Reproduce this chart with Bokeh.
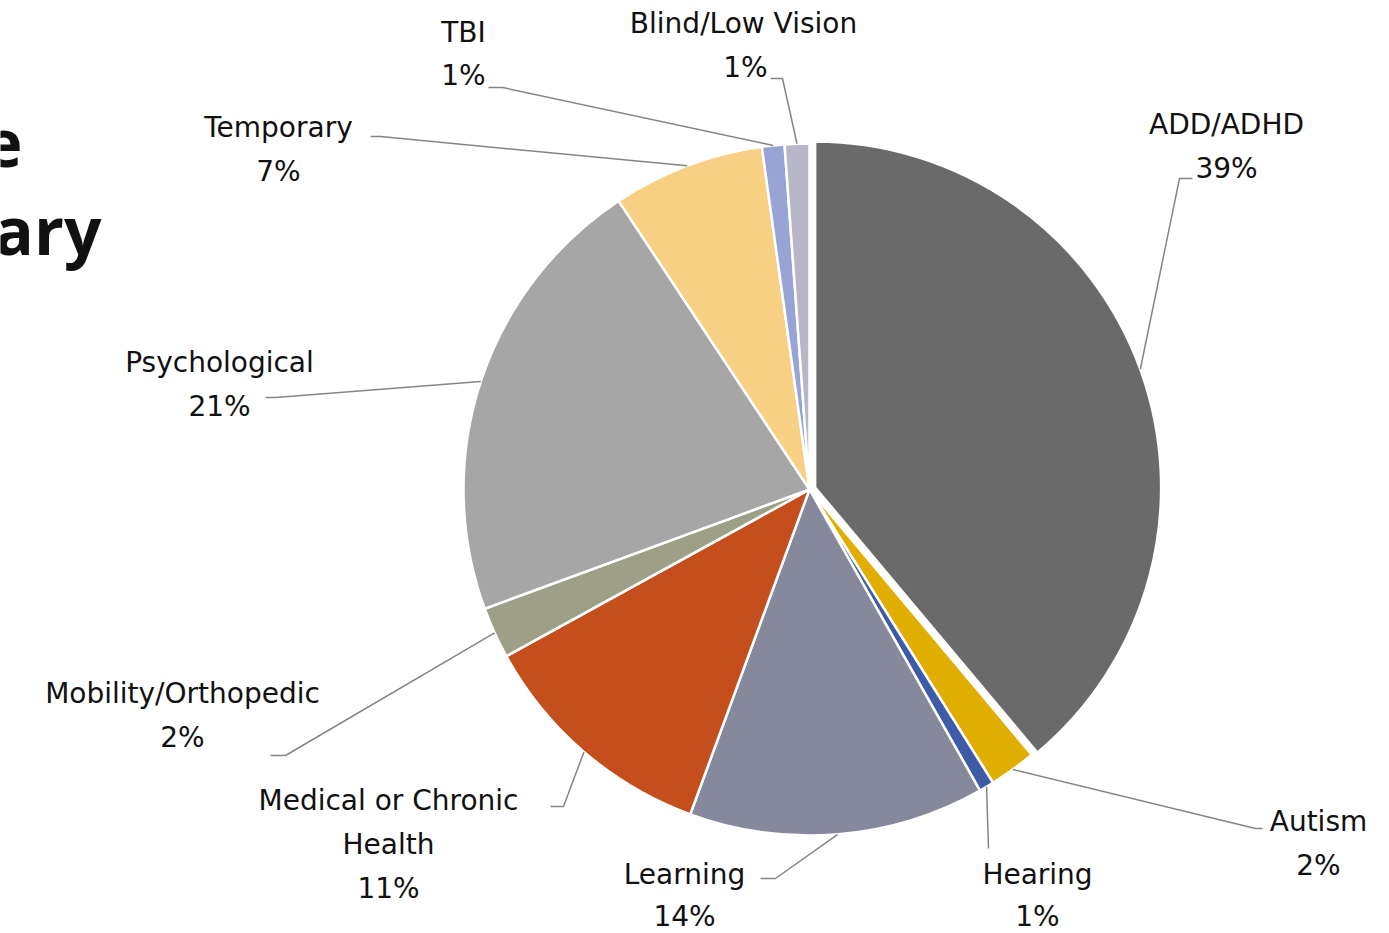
import math
from bokeh.plotting import figure
from bokeh.models import Range1d
from bokeh.core.properties import value
from bokeh.embed import file_html
from bokeh.resources import INLINE

# ---------------- data ----------------
categories = ["ADD/ADHD", "Autism", "Hearing", "Learning",
              "Medical or Chronic Health", "Mobility/Orthopedic",
              "Psychological", "Temporary", "TBI", "Blind/Low Vision"]
shares = [38.9, 2.2, 0.7, 13.8, 11.4, 2.4, 21.3, 7.1, 1.05, 1.15]
label_names = [["ADD/ADHD"], ["Autism"], ["Hearing"], ["Learning"],
               ["Medical or Chronic", "Health"], ["Mobility/Orthopedic"],
               ["Psychological"], ["Temporary"], ["TBI"], ["Blind/Low Vision"]]
colors = ["#6a6a6a", "#e0ae00", "#3e5ba8", "#86889b", "#c44e1c",
          "#9d9f86", "#a6a6a6", "#f7d084", "#97a4d4", "#b7b7c7"]
title_fragments = ["e", "rary"]

# ---------------- layout (screen pixels) ----------------
W, H = 1389, 933
def Y(sy):
    return H - sy

CX, CY, R = 809, 489, 346
EXPLODE = [6, 0, 0, 0, 0, 0, 0, 0, 0, 0]
# label text centre x, first line y, line gap
label_pos = [(1226, 124, 44), (1318, 821, 44), (1037, 874, 42), (684, 874, 42),
             (388, 800, 44), (182, 693, 44), (219, 362, 44), (278, 127, 44),
             (463, 32, 43), (743, 23, 44)]
pct_x_shift = [0, 0, 0, 0, 0, 0, 0, 0, 0, 2]
# leader elbow and end points
elbows = [(1179, 178), (1255, 828), (988, 848), (775, 878), (563, 806),
          (285, 755), (275, 397), (380, 136), (502, 87), (782, 78)]
ends = [(1192, 178), (1262, 828), (988, 848), (760, 878), (550, 806),
        (270, 755), (265, 397), (370, 136), (488, 87), (770, 78)]

p = figure(width=W, height=H, output_backend="svg", toolbar_location=None,
           x_range=Range1d(0, W), y_range=Range1d(0, H),
           min_border=0)
p.axis.visible = False
p.grid.visible = False
p.outline_line_color = None
p.background_fill_color = "white"
p.border_fill_color = "white"

total = sum(shares)
cum = 0.0
xs, ys = [], []
for i, s in enumerate(shares):
    a0 = cum / total
    a1 = (cum + s) / total
    cum += s
    mid = (a0 + a1) / 2 * 2 * math.pi  # clockwise from top
    ox = EXPLODE[i] * math.sin(mid)
    oy = EXPLODE[i] * math.cos(mid)
    p.wedge(x=CX + ox, y=Y(CY) + oy, radius=R,
            start_angle=math.pi / 2 - a0 * 2 * math.pi,
            end_angle=math.pi / 2 - a1 * 2 * math.pi,
            direction="clock", fill_color=colors[i],
            line_color="white", line_width=2.5)
    # leader line
    rr = R + EXPLODE[i]
    sx = CX + rr * math.sin(mid)
    sy = Y(CY) + rr * math.cos(mid)
    ex, ey = elbows[i]
    fx, fy = ends[i]
    xs.append([sx, ex, fx])
    ys.append([sy, Y(ey), Y(fy)])

p.multi_line(xs=xs, ys=ys, line_color="#858585", line_width=1.5)

# labels
for i, names in enumerate(label_names):
    tx, ty, gap = label_pos[i]
    lines = names + [f"{round(shares[i])}%"]
    for j, t in enumerate(lines):
        xx = tx + (pct_x_shift[i] if j == len(lines) - 1 else 0)
        p.text(x=[xx], y=[Y(ty + j * gap)], text=[t],
               text_align="center", text_baseline="middle",
               text_font=value("DejaVu Sans"), text_font_size="28px",
               text_color="#111111")

# cut-off title fragments at left
p.text(x=[22, 101], y=[Y(168 - 26), Y(254 - 26)], text=title_fragments,
       text_align="right", text_baseline="alphabetic",
       text_font=value("Open Sans"), text_font_style="bold",
       text_font_size="66px", text_color="#111111")

open("out.html", "w").write(file_html(p, INLINE))
